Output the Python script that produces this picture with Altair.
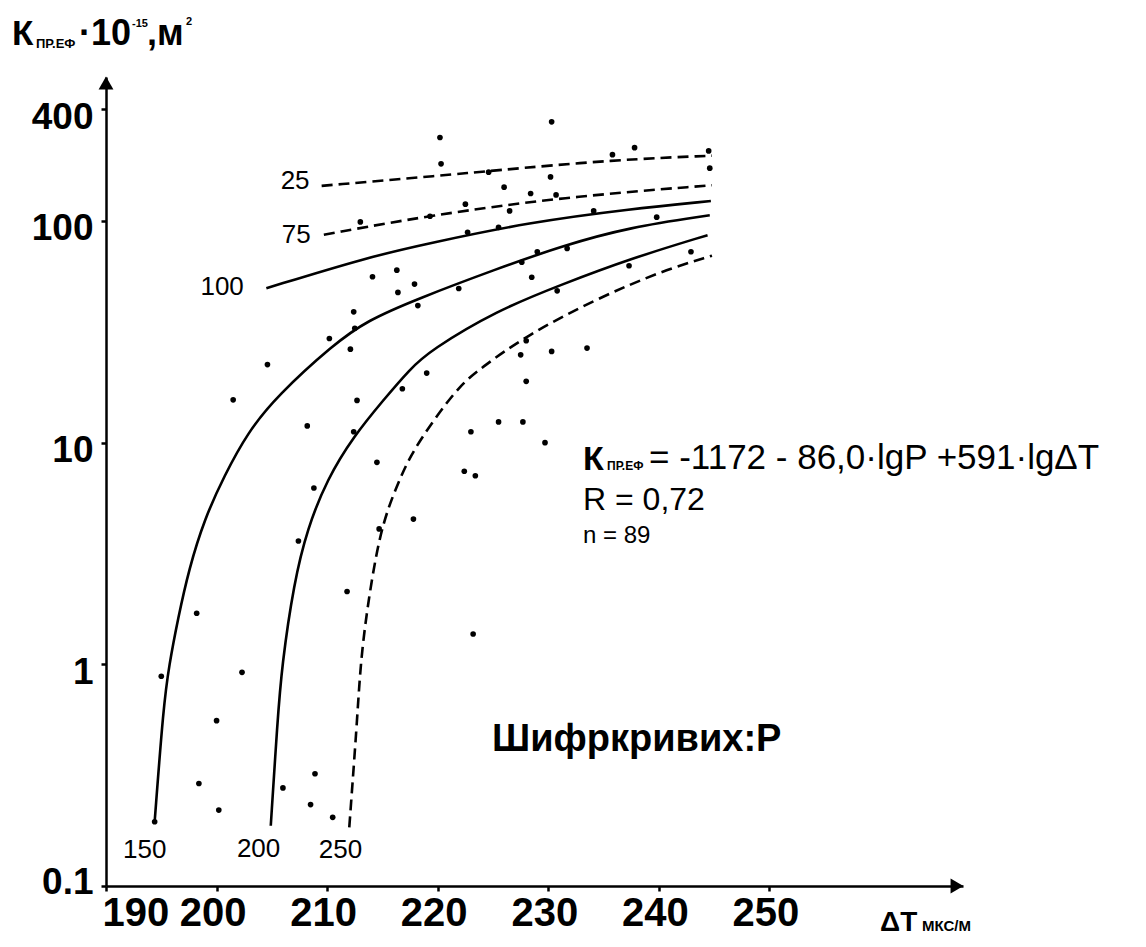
import altair as alt
import pandas as pd

# ---------------- data ----------------
# measured points: ΔT (мкс/м) and K (10^-15 m^2)
dt_points = [220.2, 220.3, 213.0, 219.3, 214.1, 216.3, 216.4, 217.9, 218.2, 212.4,
             212.5, 210.2, 212.1, 204.6, 219.0, 216.8, 230.3, 235.8, 237.8, 244.5,
             244.6, 224.6, 230.2, 226.0, 228.4, 230.7, 222.5, 226.5, 234.1, 239.8,
             222.7, 225.5, 229.0, 231.7, 227.6, 228.5, 221.9, 230.8, 237.3, 242.9,
             228.0, 227.5, 230.3, 233.5, 228.0, 201.5, 212.7, 208.2, 212.4, 214.5,
             208.8, 217.8, 214.7, 207.4, 211.8, 198.2, 225.5, 227.7, 223.0, 229.7,
             222.4, 223.4, 223.2, 195.0, 202.3, 200.0, 198.4, 200.2, 206.0, 208.9,
             208.5, 210.5, 194.4]
k_points = [238, 181, 99, 105, 56, 60, 47.6, 51.9, 41.5, 38.9,
            32.8, 29.5, 26.4, 22.5, 20.6, 17.5, 280, 199, 214, 207,
            173, 166, 158, 142, 133, 131, 119, 111, 111, 104,
            88.9, 93.6, 72.6, 75.2, 65.1, 55.7, 49.6, 48.4, 62.8, 72.6,
            28.8, 24.9, 25.8, 26.7, 18.9, 15.6, 15.5, 11.9, 11.2, 8.15,
            6.24, 4.52, 4.08, 3.60, 2.13, 1.70, 12.4, 12.4, 11.2, 10.0,
            7.43, 7.09, 1.37, 0.883, 0.920, 0.557, 0.290, 0.220, 0.277, 0.321,
            0.233, 0.204, 0.195]

# curves (code P)
c25_dt = [209.5, 220.8, 224.6, 236.1, 244.8]
c25_k = [144, 161, 168, 189, 197]
c75_dt = [209.7, 219.3, 231.3, 244.8]
c75_k = [86.7, 106, 128, 145]
c100_dt = [204.5, 213.6, 219.3, 228.3, 237.3, 244.7]
c100_k = [49.7, 68.5, 79.5, 98.6, 113, 123]
c150_dt = [194.4, 195.2, 195.7, 196.5, 197.5, 198.9, 200.7, 202.8, 205.5, 210.6,
           213.6, 218.1, 225.3, 231.3, 237.3, 244.6]
c150_k = [0.195, 0.650, 0.986, 1.60, 2.69, 4.52, 7.09, 11.1, 16.3, 27.8,
          35.5, 44.4, 60.7, 77.3, 93.6, 106]
c200_dt = [204.9, 205.5, 205.9, 207.0, 208.2, 210.0, 212.4, 215.1, 217.5, 219.3,
           225.3, 231.3, 237.3, 244.4]
c200_k = [0.187, 0.547, 0.986, 2.34, 4.08, 6.85, 10.7, 15.6, 21.5, 26.0,
          39.4, 51.9, 67.3, 86.3]
c250_dt = [212.0, 212.7, 213.0, 213.6, 214.8, 216.3, 217.5, 219.6, 222.0, 223.8,
           228.0, 234.3, 240.3, 244.8]
c250_k = [0.184, 0.547, 0.986, 1.78, 4.08, 6.39, 8.73, 12.6, 18.1, 21.5,
          30.4, 44.4, 59.6, 69.7]

curve_names = ["25", "75", "100", "150", "200", "250"]
x_ticks = [190, 200, 210, 220, 230, 240, 250]
y_ticks = [0.1, 1, 10, 100, 319]

# ---------------- tables ----------------
pts = pd.DataFrame({"dt": dt_points, "k": k_points})

curve_dt = [c25_dt, c75_dt, c100_dt, c150_dt, c200_dt, c250_dt]
curve_k = [c25_k, c75_k, c100_k, c150_k, c200_k, c250_k]
dashed = {"25", "75", "250"}
rows = []
for name, xs_, ys_ in zip(curve_names, curve_dt, curve_k):
    for i, (a, b) in enumerate(zip(xs_, ys_)):
        rows.append({"P": name, "dt": a, "k": b, "i": i})
curves = pd.DataFrame(rows)
solid_df = curves[~curves["P"].isin(dashed)]
dash_df = curves[curves["P"].isin(dashed)]

# curve code labels (annotation positions)
lab = pd.DataFrame({
    "t": curve_names,
    "dt": [207.1, 207.2, 200.5, 193.5, 203.8, 211.2],
    "k": [152, 86.5, 50.1, 0.146, 0.147, 0.146],
})

W, H = 857, 809
SANS = "Liberation Sans, Arial, sans-serif"

xs = alt.Scale(domain=[190, 267.5], nice=False, zero=False)
ys = alt.Scale(type="log", domain=[0.1, 446], nice=False)

x_axis = alt.Axis(values=x_ticks, title=None, labelFlush=True, labelOverlap=False,
                  labelFont=SANS, labelFontSize=40, labelFontWeight="bold", labelColor="black",
                  labelPadding=2, labelOffset=-4, tickSize=5, tickWidth=2.5, tickColor="black",
                  domainColor="black", domainWidth=2.5, grid=False, format="d")
y_axis = alt.Axis(values=y_ticks, title=None, labelFont=SANS, labelFontSize=37,
                  labelFontWeight="bold", labelColor="black", labelPadding=8,
                  labelOverlap=False,
                  labelOffset={"condition": {"test": "datum.value < 0.5", "value": -4}, "value": 8},
                  tickSize=5, tickWidth=2.5, tickColor="black",
                  domainColor="black", domainWidth=2.5, grid=False,
                  labelExpr="datum.value > 200 ? '400' : (datum.value < 0.5 ? '0.1' : format(datum.value, 'd'))")

points = alt.Chart(pts).mark_circle(size=32, color="black", opacity=1).encode(
    x=alt.X("dt:Q", scale=xs, axis=x_axis),
    y=alt.Y("k:Q", scale=ys, axis=y_axis),
)

solid = alt.Chart(solid_df).mark_line(color="black", strokeWidth=2.6, interpolate="basis").encode(
    x=alt.X("dt:Q", scale=xs), y=alt.Y("k:Q", scale=ys), detail="P:N", order="i:Q")
dash = alt.Chart(dash_df).mark_line(color="black", strokeWidth=2.6, interpolate="basis",
                                    strokeDash=[11, 6]).encode(
    x=alt.X("dt:Q", scale=xs), y=alt.Y("k:Q", scale=ys), detail="P:N", order="i:Q")

labels = alt.Chart(lab).mark_text(font=SANS, fontSize=26, color="black").encode(
    x=alt.X("dt:Q", scale=xs), y=alt.Y("k:Q", scale=ys), text="t:N")

one = pd.DataFrame({"a": [0]})


def txt(s, x, y, size, weight="normal", font=SANS, align="left", baseline="alphabetic"):
    return alt.Chart(one).mark_text(text=s, font=font, fontSize=size, fontWeight=weight,
                                    color="black", align=align, baseline=baseline).encode(
        x=alt.value(x), y=alt.value(y))


arrow_x = alt.Chart(one).mark_point(shape="triangle-right", filled=True, size=220,
                                    color="black", opacity=1).encode(
    x=alt.value(W - 6), y=alt.value(H))
arrow_y = alt.Chart(one).mark_point(shape="triangle-up", filled=True, size=220,
                                    color="black", opacity=1).encode(
    x=alt.value(0), y=alt.value(6))

texts = [
    # y-axis title
    txt("К", -94, -32, 35, "bold"),
    txt("ПР.ЕФ", -70, -29, 13, "bold"),
    txt("·10", -27, -32, 36, "bold"),
    txt("-15", 26, -50, 11, "bold"),
    txt(",м", 41, -32, 36, "bold"),
    txt("2", 80, -52, 11, "bold"),
    # x-axis title
    txt("ΔТ", 774, 854, 28, "bold"),
    txt("МКС/М", 816, 854, 15, "bold"),
    # equation block
    txt("К", 477, 393, 34, "bold"),
    txt("ПР.ЕФ", 501, 393, 12, "bold"),
    txt("=  -1172  -  86,0·lgP   +591·lgΔT", 543, 392, 35),
    txt("R = 0,72", 477, 433, 32),
    txt("n = 89", 477, 466, 24),
    txt("Шифркривих:Р", 386, 674, 38, "bold"),
]

chart = alt.layer(solid, dash, points, labels, arrow_x, arrow_y, *texts).properties(
    width=W, height=H,
    background="white",
    autosize=alt.AutoSizeParams(type="none"),
    padding={"left": 98, "top": 69, "right": 175, "bottom": 53},
).configure_view(stroke=None)

chart.save("out.html", embed_options={"renderer": "svg", "actions": False})
